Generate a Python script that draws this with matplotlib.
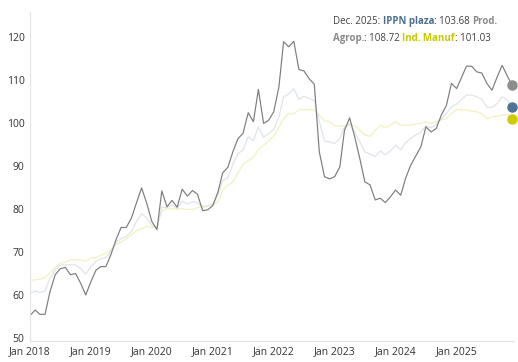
import matplotlib
matplotlib.use("Agg")
import matplotlib.pyplot as plt
import matplotlib.dates as mdates
import pandas as pd

plt.rcParams['font.family'] = ['Open Sans', 'DejaVu Sans']

months = pd.date_range('2018-01-01', '2025-12-01', freq='MS')

prod_agrop = [55.2, 56.5, 55.5, 55.5, 60.8, 64.7, 66.1, 66.4, 64.7, 65.0, 62.7, 60.0,
              63.1, 65.8, 66.6, 66.6, 69.4, 72.9, 75.7, 75.7, 77.9, 81.4, 84.9, 81.4,
              77.1, 75.2, 84.2, 80.5, 82.0, 80.4, 84.6, 83.0, 84.3, 83.4, 79.6, 79.8,
              80.8, 84.0, 88.4, 89.7, 93.3, 96.4, 97.6, 102.4, 100.3, 107.8, 99.9, 100.6,
              102.6, 108.4, 118.9, 117.7, 119.0, 112.4, 112.1, 110.3, 109.0, 93.3, 87.5, 87.0,
              87.5, 89.8, 98.3, 101.2, 96.8, 91.7, 86.3, 85.6, 82.1, 82.5, 81.5, 82.8,
              84.4, 83.2, 87.1, 90.2, 92.3, 94.5, 99.1, 97.9, 98.7, 101.8, 104.1, 109.2,
              108.0, 110.7, 113.2, 113.2, 111.9, 111.6, 109.2, 107.6, 110.7, 113.4, 110.9, 108.72]

ippn_plaza = [60.4, 60.9, 60.6, 60.9, 63.9, 65.8, 66.9, 67.0, 67.0, 67.0, 66.2, 64.8,
              66.6, 67.8, 68.4, 68.7, 70.1, 72.3, 73.1, 73.6, 74.8, 77.1, 78.9, 77.9,
              76.2, 75.4, 80.4, 80.3, 80.9, 80.1, 81.8, 81.2, 81.7, 81.4, 80.4, 80.7,
              81.2, 83.3, 86.6, 87.3, 90.4, 92.9, 93.7, 96.8, 95.9, 99.1, 96.7, 97.5,
              98.5, 101.4, 106.1, 106.7, 108.0, 105.5, 106.2, 105.7, 105.2, 100.3, 95.8, 95.6,
              95.2, 96.4, 99.1, 99.9, 97.9, 95.6, 93.3, 92.8, 92.2, 93.5, 92.6, 93.5,
              94.8, 93.8, 95.4, 96.4, 97.2, 97.9, 99.3, 98.9, 99.7, 100.8, 102.2, 103.7,
              104.4, 105.5, 106.5, 106.5, 106.1, 105.5, 103.7, 103.6, 104.5, 106.1, 105.3, 103.68]

ind_manuf = [63.5, 63.5, 63.7, 64.1, 65.1, 66.4, 67.4, 67.6, 68.2, 68.2, 68.2, 67.8,
             68.6, 68.7, 69.2, 69.7, 70.5, 71.8, 72.3, 73.1, 74.0, 75.0, 75.4, 76.0,
             75.7, 76.0, 79.5, 80.1, 80.1, 79.9, 80.1, 79.9, 79.9, 80.3, 80.7, 80.7,
             80.9, 81.7, 84.4, 85.5, 86.3, 88.4, 90.4, 91.2, 92.1, 93.8, 94.8, 95.8,
             96.9, 99.1, 101.0, 102.2, 102.1, 103.1, 103.1, 103.1, 103.0, 101.8, 100.5, 100.3,
             99.3, 99.3, 99.3, 99.5, 99.3, 98.3, 97.2, 96.9, 98.2, 99.5, 98.9, 99.5,
             100.3, 99.5, 99.5, 99.5, 99.7, 99.9, 100.3, 99.9, 100.3, 100.8, 101.0, 102.2,
             103.1, 103.1, 103.0, 102.8, 102.6, 102.2, 101.0, 101.4, 101.6, 101.8, 102.0, 101.03]

y_ticks = [50, 60, 70, 80, 90, 100, 110, 120]

fig = plt.figure(figsize=(5.18, 3.62), dpi=100)
ax = fig.add_axes([30 / 518, 21 / 362, 484 / 518, 329 / 362])

ax.plot(months, ind_manuf, color='#f2f1bf', linewidth=0.9)
ax.plot(months, ippn_plaza, color='#dfe4eb', linewidth=0.9)
ax.plot(months, prod_agrop, color='#7c7c7c', linewidth=0.85)

# end-of-series dots
ax.plot(months[-1:], prod_agrop[-1:], 'o', color='#8a8d88', markersize=6.5, clip_on=False)
ax.plot(months[-1:], ippn_plaza[-1:], 'o', color='#4d7396', markersize=6.5, clip_on=False)
ax.plot(months[-1:], ind_manuf[-1:], 'o', color='#cccc00', markersize=6.5, clip_on=False)

ax.set_xlim(months[0], months[-1] + pd.Timedelta(days=10))
ax.set_ylim(49.3, 125.8)
ax.set_yticks(y_ticks)
ax.xaxis.set_major_locator(mdates.YearLocator())
ax.xaxis.set_major_formatter(mdates.DateFormatter('%b %Y'))
ax.tick_params(length=0, labelsize=7.5, colors='#333333', pad=4)
for side in ['top', 'right']:
    ax.spines[side].set_visible(False)
for side in ['left', 'bottom']:
    ax.spines[side].set_color('#e3e3e3')
    ax.spines[side].set_linewidth(0.8)

# tooltip-like label, pieces laid out one after another
dark = '#404040'
parts1 = [('Dec. 2025: ', dark, 'normal'), ('IPPN plaza', '#4d6e8e', 'bold'),
          (': 103.68 ', dark, 'normal'), ('Prod.', '#8a8a8a', 'bold')]
parts2 = [('Agrop.', '#8a8a8a', 'bold'), (': 108.72 ', dark, 'normal'),
          ('Ind. Manuf', '#c8c800', 'bold'), (': 101.03', dark, 'normal')]

renderer = fig.canvas.get_renderer()
for parts, ypix in [(parts1, 24), (parts2, 41)]:
    x = 333
    for s, color, weight in parts:
        t = fig.text(x / 518, 1 - ypix / 362, s, color=color, fontweight=weight,
                     fontsize=7, va='baseline', ha='left')
        x += t.get_window_extent(renderer).width

fig.savefig('out.png', dpi=100)
